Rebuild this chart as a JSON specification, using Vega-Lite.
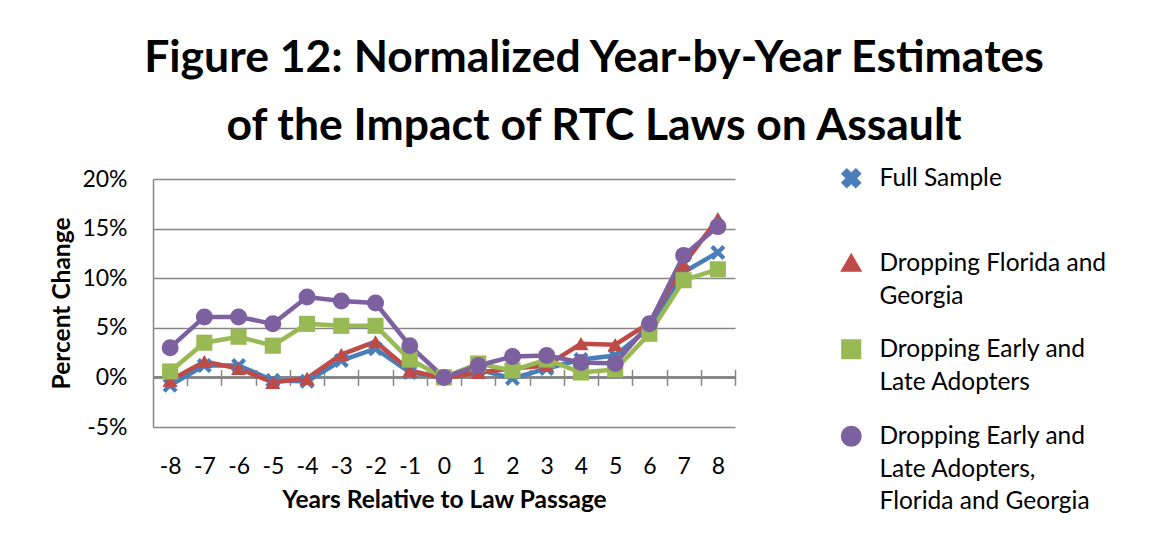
{
  "$schema": "https://vega.github.io/schema/vega-lite/v6.json",
  "width": 582,
  "height": 248,
  "autosize": {"type": "none"},
  "padding": {"left": 153, "top": 179, "right": 431, "bottom": 117},
  "background": "white",
  "config": {"view": {"stroke": null}, "font": "Lato"},
  "title": {
    "text": ["Figure 12: Normalized Year-by-Year Estimates", "of the Impact of RTC Laws on Assault"],
    "font": "Lato", "fontSize": 44.5, "fontWeight": "bold", "color": "black",
    "lineHeight": 68, "anchor": "middle", "frame": "group", "dx": 150, "offset": 17
  },
  "data": {"values": [
    {"year": -8, "series": "Full Sample", "pct": -0.8},
    {"year": -7, "series": "Full Sample", "pct": 1.2},
    {"year": -6, "series": "Full Sample", "pct": 1.2},
    {"year": -5, "series": "Full Sample", "pct": -0.3},
    {"year": -4, "series": "Full Sample", "pct": -0.4},
    {"year": -3, "series": "Full Sample", "pct": 1.7},
    {"year": -2, "series": "Full Sample", "pct": 2.9},
    {"year": -1, "series": "Full Sample", "pct": 0.5},
    {"year": 0, "series": "Full Sample", "pct": 0},
    {"year": 1, "series": "Full Sample", "pct": 0.8},
    {"year": 2, "series": "Full Sample", "pct": -0.1},
    {"year": 3, "series": "Full Sample", "pct": 0.9},
    {"year": 4, "series": "Full Sample", "pct": 1.8},
    {"year": 5, "series": "Full Sample", "pct": 2.2},
    {"year": 6, "series": "Full Sample", "pct": 5.0},
    {"year": 7, "series": "Full Sample", "pct": 10.6},
    {"year": 8, "series": "Full Sample", "pct": 12.6},
    {"year": -8, "series": "Dropping Florida and Georgia", "pct": -0.3},
    {"year": -7, "series": "Dropping Florida and Georgia", "pct": 1.6},
    {"year": -6, "series": "Dropping Florida and Georgia", "pct": 0.9},
    {"year": -5, "series": "Dropping Florida and Georgia", "pct": -0.5},
    {"year": -4, "series": "Dropping Florida and Georgia", "pct": -0.1},
    {"year": -3, "series": "Dropping Florida and Georgia", "pct": 2.3},
    {"year": -2, "series": "Dropping Florida and Georgia", "pct": 3.6},
    {"year": -1, "series": "Dropping Florida and Georgia", "pct": 0.7},
    {"year": 0, "series": "Dropping Florida and Georgia", "pct": -0.1},
    {"year": 1, "series": "Dropping Florida and Georgia", "pct": 0.5},
    {"year": 2, "series": "Dropping Florida and Georgia", "pct": 0.9},
    {"year": 3, "series": "Dropping Florida and Georgia", "pct": 1.2},
    {"year": 4, "series": "Dropping Florida and Georgia", "pct": 3.4},
    {"year": 5, "series": "Dropping Florida and Georgia", "pct": 3.3},
    {"year": 6, "series": "Dropping Florida and Georgia", "pct": 5.5},
    {"year": 7, "series": "Dropping Florida and Georgia", "pct": 11.4},
    {"year": 8, "series": "Dropping Florida and Georgia", "pct": 16.0},
    {"year": -8, "series": "Dropping Early and Late Adopters", "pct": 0.6},
    {"year": -7, "series": "Dropping Early and Late Adopters", "pct": 3.5},
    {"year": -6, "series": "Dropping Early and Late Adopters", "pct": 4.1},
    {"year": -5, "series": "Dropping Early and Late Adopters", "pct": 3.2},
    {"year": -4, "series": "Dropping Early and Late Adopters", "pct": 5.4},
    {"year": -3, "series": "Dropping Early and Late Adopters", "pct": 5.2},
    {"year": -2, "series": "Dropping Early and Late Adopters", "pct": 5.2},
    {"year": -1, "series": "Dropping Early and Late Adopters", "pct": 1.8},
    {"year": 0, "series": "Dropping Early and Late Adopters", "pct": 0},
    {"year": 1, "series": "Dropping Early and Late Adopters", "pct": 1.4},
    {"year": 2, "series": "Dropping Early and Late Adopters", "pct": 0.7},
    {"year": 3, "series": "Dropping Early and Late Adopters", "pct": 1.8},
    {"year": 4, "series": "Dropping Early and Late Adopters", "pct": 0.5},
    {"year": 5, "series": "Dropping Early and Late Adopters", "pct": 0.8},
    {"year": 6, "series": "Dropping Early and Late Adopters", "pct": 4.4},
    {"year": 7, "series": "Dropping Early and Late Adopters", "pct": 9.8},
    {"year": 8, "series": "Dropping Early and Late Adopters", "pct": 10.9},
    {"year": -8, "series": "Dropping Early and Late Adopters, Florida and Georgia", "pct": 3.0},
    {"year": -7, "series": "Dropping Early and Late Adopters, Florida and Georgia", "pct": 6.1},
    {"year": -6, "series": "Dropping Early and Late Adopters, Florida and Georgia", "pct": 6.1},
    {"year": -5, "series": "Dropping Early and Late Adopters, Florida and Georgia", "pct": 5.4},
    {"year": -4, "series": "Dropping Early and Late Adopters, Florida and Georgia", "pct": 8.1},
    {"year": -3, "series": "Dropping Early and Late Adopters, Florida and Georgia", "pct": 7.7},
    {"year": -2, "series": "Dropping Early and Late Adopters, Florida and Georgia", "pct": 7.5},
    {"year": -1, "series": "Dropping Early and Late Adopters, Florida and Georgia", "pct": 3.2},
    {"year": 0, "series": "Dropping Early and Late Adopters, Florida and Georgia", "pct": 0},
    {"year": 1, "series": "Dropping Early and Late Adopters, Florida and Georgia", "pct": 1.2},
    {"year": 2, "series": "Dropping Early and Late Adopters, Florida and Georgia", "pct": 2.1},
    {"year": 3, "series": "Dropping Early and Late Adopters, Florida and Georgia", "pct": 2.2},
    {"year": 4, "series": "Dropping Early and Late Adopters, Florida and Georgia", "pct": 1.5},
    {"year": 5, "series": "Dropping Early and Late Adopters, Florida and Georgia", "pct": 1.4},
    {"year": 6, "series": "Dropping Early and Late Adopters, Florida and Georgia", "pct": 5.4},
    {"year": 7, "series": "Dropping Early and Late Adopters, Florida and Georgia", "pct": 12.3},
    {"year": 8, "series": "Dropping Early and Late Adopters, Florida and Georgia", "pct": 15.2}
  ]},
  "resolve": {"axis": {"x": "independent"}},
  "layer": [
    {
      "mark": {"type": "rule", "color": "#868686", "strokeWidth": 1.5},
      "encoding": {"y": {"datum": 0, "type": "quantitative"}}
    },
    {
      "mark": {"type": "line", "strokeWidth": 4.5},
      "encoding": {
        "x": {"field": "year", "type": "ordinal", "sort": "ascending",
          "scale": {"type": "point", "padding": 0.5},
          "axis": {"orient": "bottom", "offset": -57.6, "domain": false, "labels": false, "ticks": true,
            "tickSize": 16, "tickColor": "#868686", "tickWidth": 1.5, "tickOffset": 17.12, "title": null, "grid": false}},
        "y": {"field": "pct", "type": "quantitative"},
        "color": {"field": "series", "type": "nominal",
          "scale": {"domain": ["Full Sample", "Dropping Florida and Georgia", "Dropping Early and Late Adopters", "Dropping Early and Late Adopters, Florida and Georgia"],
            "range": ["#4A7EBB", "#BE4B48", "#98B954", "#7D60A0"]},
          "legend": {
            "orient": "none", "legendX": 661, "legendY": -13, "title": null,
            "symbolSize": 100, "symbolStrokeWidth": 4, "symbolOffset": 25, "labelOffset": 16,
            "labelFont": "Lato", "labelFontSize": 24.5, "labelColor": "black", "labelLimit": 400,
            "labelBaseline": "top", "rowPadding": 24,
            "labelExpr": "datum.label == 'Full Sample' ? ['Full Sample', ''] : datum.label == 'Dropping Florida and Georgia' ? ['Dropping Florida and', 'Georgia'] : datum.label == 'Dropping Early and Late Adopters' ? ['Dropping Early and', 'Late Adopters'] : ['Dropping Early and', 'Late Adopters,', 'Florida and Georgia']",
            "encode": {
              "labels": {"update": {"lineHeight": {"value": 32.5}, "dy": {"value": -11}}}
            }
          }}
      }
    },
    {
      "mark": {"type": "point", "filled": true, "opacity": 1},
      "encoding": {
        "x": {"field": "year", "type": "ordinal", "sort": "ascending",
          "axis": {"orient": "bottom", "domain": false, "ticks": false, "tickSize": 0, "labelPadding": 28,
            "labelFont": "Lato", "labelFontSize": 23, "labelColor": "black", "labelAngle": 0,
            "title": "Years Relative to Law Passage", "titleFont": "Lato", "titleFontSize": 24.5, "titleFontWeight": "bold",
            "titleColor": "black", "titlePadding": 10, "grid": false}},
        "y": {"field": "pct", "type": "quantitative",
          "scale": {"domain": [-5, 20], "nice": false, "zero": false},
          "axis": {"values": [-5, 0, 5, 10, 15, 20], "labelExpr": "datum.value + '%'",
            "domainColor": "#868686", "domainWidth": 1.5, "gridColor": "#868686", "gridWidth": 1.5, "grid": true,
            "ticks": false, "tickSize": 0, "labelPadding": 26, "labelFont": "Lato", "labelFontSize": 23, "labelColor": "black",
            "title": "Percent Change", "titleFont": "Lato", "titleFontSize": 24.5, "titleFontWeight": "bold", "titleColor": "black", "titlePadding": 7}},
        "color": {"field": "series", "type": "nominal"},
        "shape": {"field": "series", "type": "nominal", "legend": null,
          "scale": {"domain": ["Full Sample", "Dropping Florida and Georgia", "Dropping Early and Late Adopters", "Dropping Early and Late Adopters, Florida and Georgia"],
            "range": ["M0.636,-1.061L1.061,-0.636L0.424,0L1.061,0.636L0.636,1.061L0,0.424L-0.636,1.061L-1.061,0.636L-0.424,0L-1.061,-0.636L-0.636,-1.061L0,-0.424Z", "triangle-up", "square", "circle"]}},
        "size": {"field": "series", "type": "nominal", "legend": null,
          "scale": {"domain": ["Full Sample", "Dropping Florida and Georgia", "Dropping Early and Late Adopters", "Dropping Early and Late Adopters, Florida and Georgia"],
            "range": [200, 289, 196, 160]}}
      }
    }
  ]
}
